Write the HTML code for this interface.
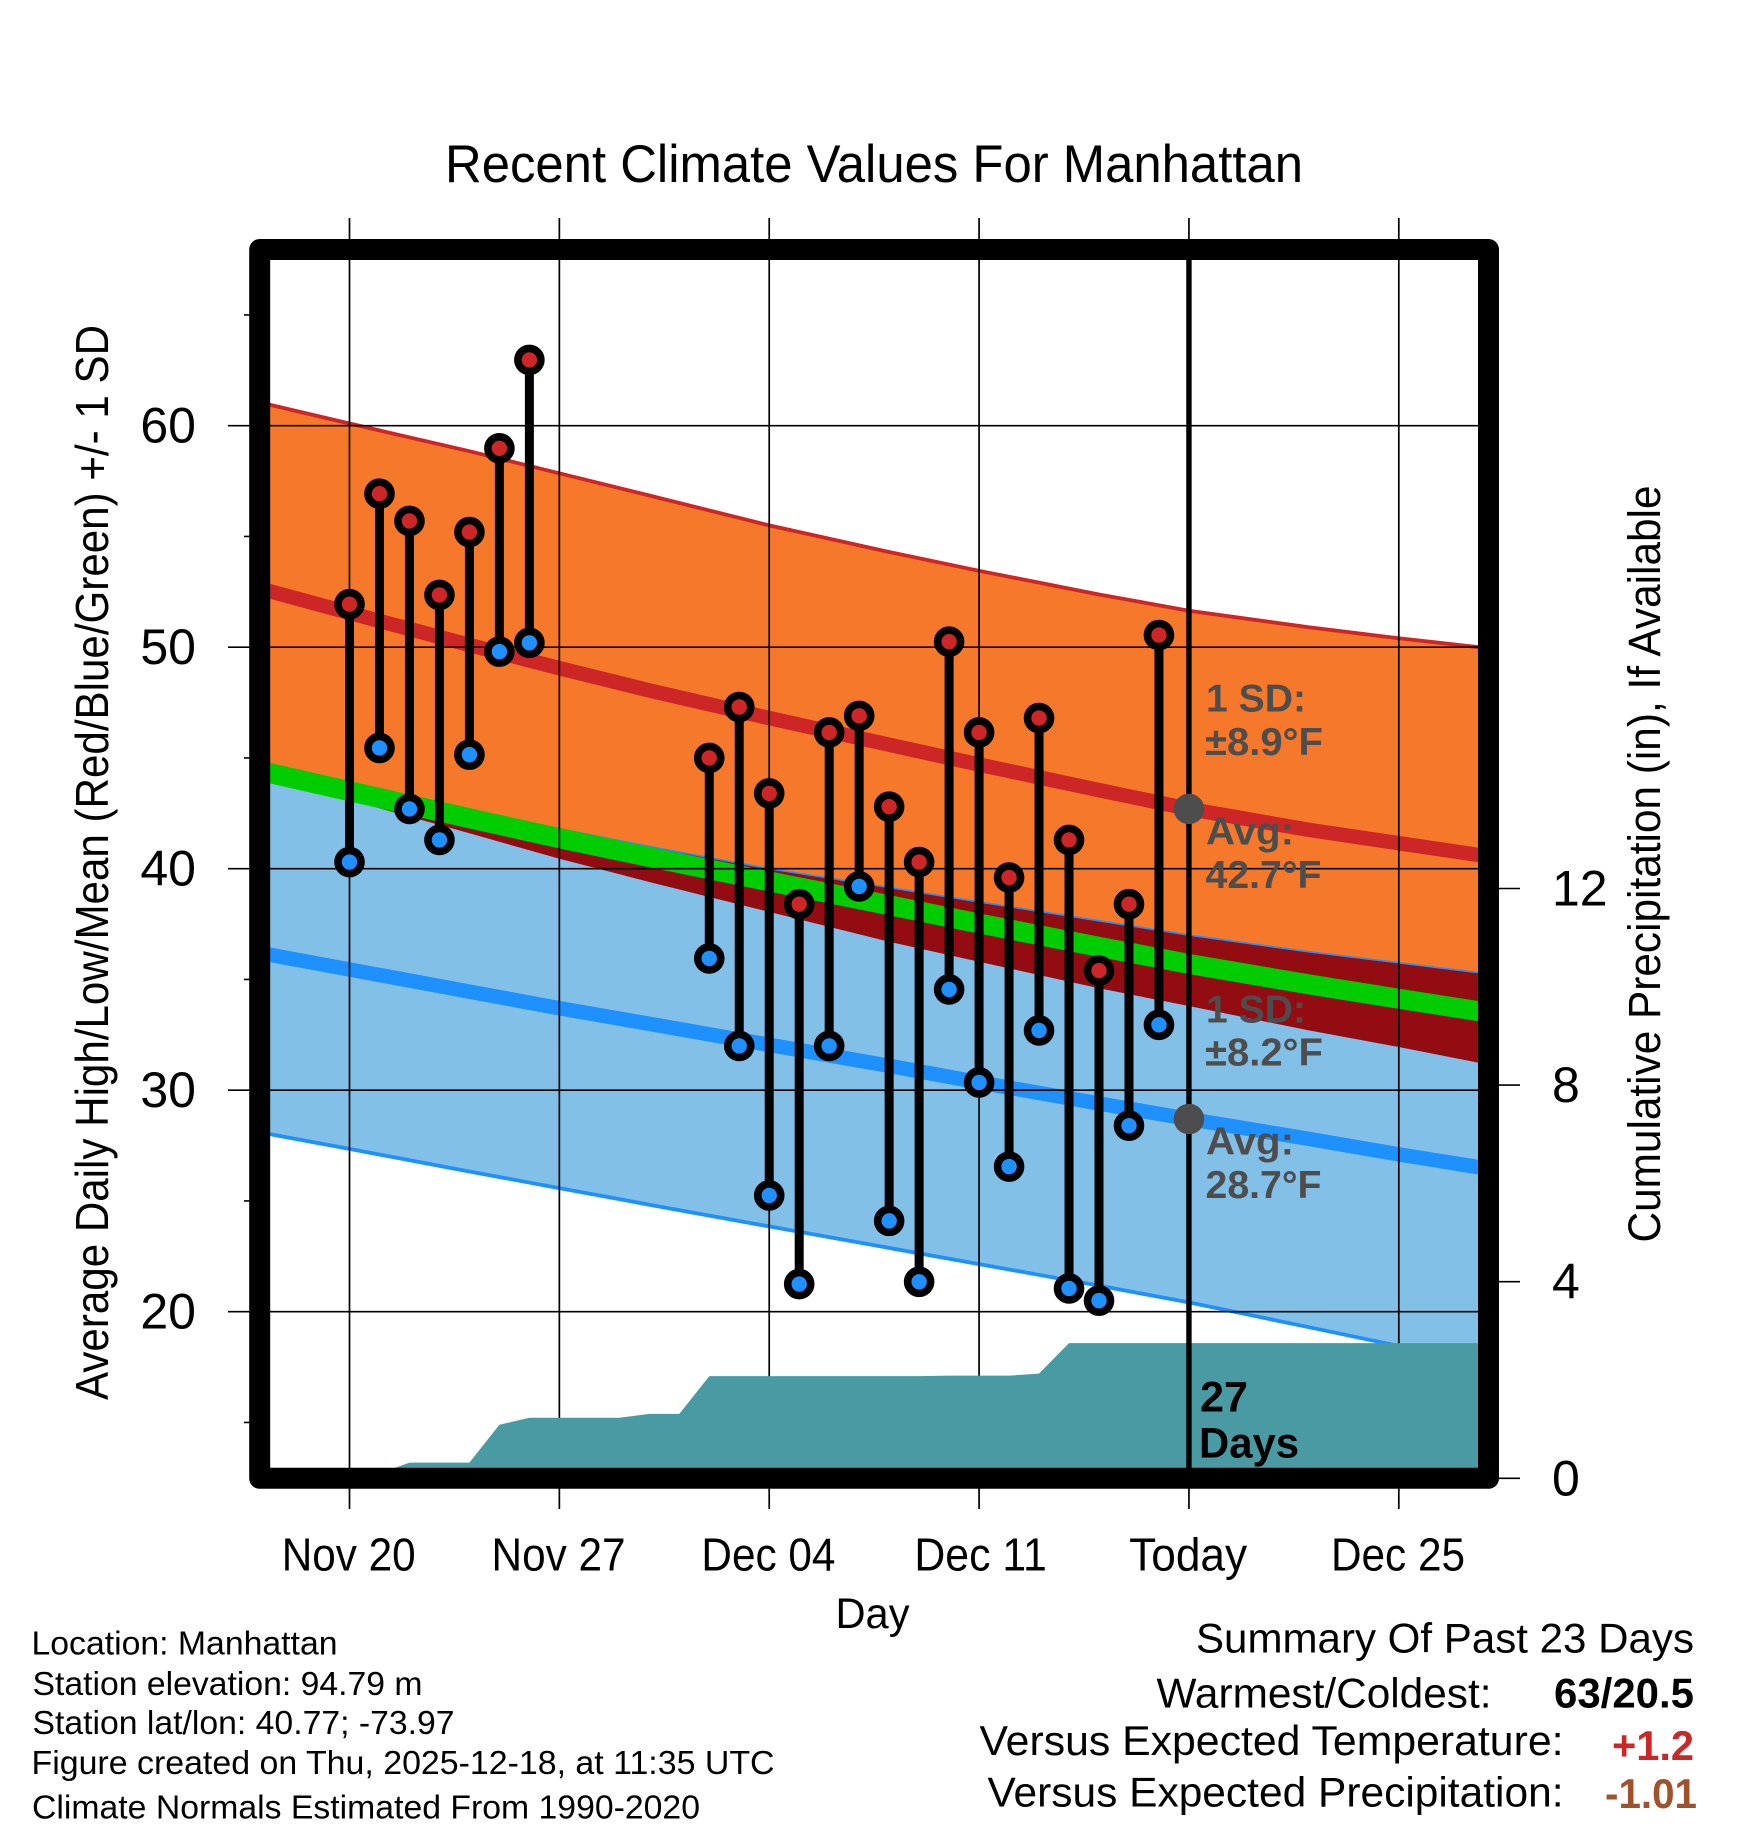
<!DOCTYPE html>
<html lang="en">
<head>
<meta charset="utf-8">
<title>Recent Climate Values For Manhattan</title>
<style>
html,body{margin:0;padding:0;background:#fff;}
svg{display:block;font-family:"Liberation Sans",sans-serif;}
.g{fill:#4d4d4d;font-weight:bold;font-size:39px;}
.b{fill:#000;font-size:33px;}
.s{fill:#000;font-size:42px;}
</style>
</head>
<body>
<svg id="chart" xmlns="http://www.w3.org/2000/svg" width="1748" height="1828" viewBox="0 0 1748 1828">
  <rect x="0" y="0" width="1748" height="1828" fill="#ffffff"/>
  <g id="marks"></g>
  <rect x="259.7" y="249.5" width="1228.8" height="1228.8" fill="none" stroke="#000" stroke-width="21" stroke-linejoin="round"/>
  <g id="axes"></g>
  <g id="overlay"></g>

  <text x="874" y="182" font-size="53" text-anchor="middle" textLength="858" lengthAdjust="spacingAndGlyphs">Recent Climate Values For Manhattan</text>
  <text x="872.5" y="1628" font-size="43" text-anchor="middle" textLength="74" lengthAdjust="spacingAndGlyphs">Day</text>
  <text transform="translate(108,862.5) rotate(-90)" font-size="46.5" text-anchor="middle" textLength="1075" lengthAdjust="spacingAndGlyphs">Average Daily High/Low/Mean (Red/Blue/Green) +/- 1 SD</text>
  <text transform="translate(1660,864) rotate(-90)" font-size="45" text-anchor="middle" textLength="757" lengthAdjust="spacingAndGlyphs">Cumulative Precipitation (in), If Available</text>

  <text class="g" x="1206" y="711.4" textLength="100" lengthAdjust="spacingAndGlyphs">1 SD:</text>
  <text class="g" x="1205" y="754.8" textLength="118" lengthAdjust="spacingAndGlyphs">±8.9°F</text>
  <text class="g" x="1206" y="844.5" textLength="88" lengthAdjust="spacingAndGlyphs">Avg:</text>
  <text class="g" x="1205.5" y="888" textLength="116" lengthAdjust="spacingAndGlyphs">42.7°F</text>
  <text class="g" x="1206" y="1022.3" textLength="100" lengthAdjust="spacingAndGlyphs">1 SD:</text>
  <text class="g" x="1205" y="1065.7" textLength="118" lengthAdjust="spacingAndGlyphs">±8.2°F</text>
  <text class="g" x="1206" y="1154.6" textLength="88" lengthAdjust="spacingAndGlyphs">Avg:</text>
  <text class="g" x="1205.5" y="1198" textLength="116" lengthAdjust="spacingAndGlyphs">28.7°F</text>

  <text x="1200" y="1411.7" font-size="43" font-weight="bold" textLength="48" lengthAdjust="spacingAndGlyphs">27</text>
  <text x="1199" y="1457.3" font-size="43" font-weight="bold" textLength="100" lengthAdjust="spacingAndGlyphs">Days</text>

  <text class="b" x="31.5" y="1654.3" textLength="306" lengthAdjust="spacingAndGlyphs">Location: Manhattan</text>
  <text class="b" x="32.5" y="1695" textLength="390" lengthAdjust="spacingAndGlyphs">Station elevation: 94.79 m</text>
  <text class="b" x="32.5" y="1734" textLength="422" lengthAdjust="spacingAndGlyphs">Station lat/lon: 40.77; -73.97</text>
  <text class="b" x="31.5" y="1774" textLength="743" lengthAdjust="spacingAndGlyphs">Figure created on Thu, 2025-12-18, at 11:35 UTC</text>
  <text class="b" x="32" y="1818.3" textLength="668" lengthAdjust="spacingAndGlyphs">Climate Normals Estimated From 1990-2020</text>

  <text class="s" x="1694" y="1652.7" text-anchor="end" textLength="498" lengthAdjust="spacingAndGlyphs">Summary Of Past 23 Days</text>
  <text class="s" x="1491.5" y="1707.7" text-anchor="end" textLength="335" lengthAdjust="spacingAndGlyphs">Warmest/Coldest:</text>
  <text class="s" x="1694" y="1707.7" text-anchor="end" font-weight="bold" textLength="140" lengthAdjust="spacingAndGlyphs">63/20.5</text>
  <text class="s" x="1563.5" y="1755" text-anchor="end" textLength="584" lengthAdjust="spacingAndGlyphs">Versus Expected Temperature:</text>
  <text class="s" x="1694" y="1760" text-anchor="end" font-weight="bold" style="fill:#cd2626" textLength="82" lengthAdjust="spacingAndGlyphs">+1.2</text>
  <text class="s" x="1563.5" y="1806.7" text-anchor="end" textLength="576" lengthAdjust="spacingAndGlyphs">Versus Expected Precipitation:</text>
  <text class="s" x="1697" y="1808" text-anchor="end" font-weight="bold" style="fill:#a0522d" textLength="92" lengthAdjust="spacingAndGlyphs">-1.01</text>
</svg>

<script>
// Observed daily values (day = days after Nov 20)
const obsDays = [0,1,2,3,4,5,6,12,13,14,15,16,17,18,19,20,21,22,23,24,25,26,27];
const obsHigh = [51.94,56.93,55.7,52.36,55.2,58.98,62.97,45,47.3,43.4,38.4,46.15,46.9,42.8,40.3,50.25,46.15,39.6,46.8,41.3,35.4,38.4,50.55];
const obsLow = [40.3,45.45,42.7,41.3,45.15,49.8,50.2,35.95,32,25.25,21.25,32,39.2,24.1,21.35,34.55,30.35,26.55,32.7,21.05,20.5,28.4,32.95];

// Climate normals
const normalDays = [-3,0,4,7,10,14,18,21,25,28,32,35,38];
const highMean = [52.65,51.55,50.1,49.05,48.05,46.8,45.6,44.7,43.55,42.7,41.75,41.15,40.55];
const highPlusSd = [61.05,60.1,58.85,57.85,56.85,55.5,54.3,53.45,52.38,51.65,50.9,50.4,49.95];
const highMinusSd = [44.3,43.1,41.6,40.45,39.4,38.05,36.7,35.8,34.6,33.8,32.7,31.95,31.15];
const lowMean = [36.2,35.45,34.45,33.7,33,32.05,31.1,30.35,29.4,28.7,27.8,27.1,26.45];
const lowPlusSd = [44.3,43.6,42.55,41.8,41,40,39.15,38.5,37.65,37,36.25,35.75,35.25];
const lowMinusSd = [28.1,27.35,26.33,25.58,24.83,23.85,22.88,22.15,21.18,20.42,19.3,18.45,17.6];

// Cumulative precipitation (inches), one value per day from Nov 20
const precipDays = [0,1,2,3,4,5,6,7,8,9,10,11,12,13,14,15,16,17,18,19,20,21,22,23,24,25,26,27,28,29,30,31,32,33,34,35,36,37,38];
const precipInches = [0,0.1,0.32,0.32,0.32,1.09,1.23,1.23,1.23,1.23,1.31,1.31,2.08,2.08,2.08,2.08,2.08,2.08,2.08,2.08,2.09,2.09,2.09,2.13,2.75,2.75,2.75,2.75,2.75,2.75,2.75,2.75,2.75,2.75,2.75,2.75,2.75,2.75,2.75];

// Axis ticks
const xTickDays = [0,7,14,21,28,35];
const xTickLabels = ['Nov 20','Nov 27','Dec 04','Dec 11','Today','Dec 25'];
const yMajorTicks = [20,30,40,50,60];
const yMinorTicks = [15,25,35,45,55,65];
const yPrecipTicks = [0,4,8,12];
const todayDay = 28;
const todayHighAvg = 42.7;
const todayLowAvg = 28.7;

const NS = 'http://www.w3.org/2000/svg';
function xScale(d){ return 349.5 + d * 29.98; }
function yScale(v){ return 425.7 + (60 - v) * 22.15; }
function pScale(p){ return 1478.3 - p * 49.15; }
function shape(parent, tag, attrs){
  const el = document.createElementNS(NS, tag);
  for (const k in attrs) el.setAttribute(k, attrs[k]);
  
  parent.appendChild(el);
  return el;
}
function linePts(series){
  return normalDays.map(function(d,i){ return xScale(d).toFixed(1)+','+yScale(series[i]).toFixed(1); });
}
function bandPts(upper, lower){
  return linePts(upper).concat(linePts(lower).reverse()).join(' ');
}

const marks = document.getElementById('marks');
const axes = document.getElementById('axes');
const overlay = document.getElementById('overlay');
let el;

el = shape(marks, 'polygon', {points: bandPts(highPlusSd, highMinusSd), fill: '#f6782b'});

el = shape(marks, 'polygon', {points: bandPts(lowPlusSd, lowMinusSd), fill: '#83c0e8'});

el = shape(marks, 'polygon', {points: bandPts(lowPlusSd, highMinusSd), fill: '#930c12'});

el = shape(marks, 'polyline', {points: linePts(lowPlusSd).join(' '), fill: 'none', stroke: '#1e90ff', 'stroke-width': 1.6});

el = shape(marks, 'polyline', {points: linePts(lowMinusSd).join(' '), fill: 'none', stroke: '#1e90ff', 'stroke-width': 3.8});

el = shape(marks, 'polyline', {points: linePts(highPlusSd).join(' '), fill: 'none', stroke: '#cd2626', 'stroke-width': 3.8});


const meanLine = highMean.map(function(h,i){ return (h + lowMean[i]) / 2; });
el = shape(marks, 'polyline', {points: linePts(meanLine).join(' '), fill: 'none', stroke: '#00cd00', 'stroke-width': 20});

el = shape(marks, 'polyline', {points: linePts(highMean).join(' '), fill: 'none', stroke: '#cd2626', 'stroke-width': 14.5});

el = shape(marks, 'polyline', {points: linePts(lowMean).join(' '), fill: 'none', stroke: '#1e90ff', 'stroke-width': 14.5});


xTickDays.forEach(function(d){
  el = shape(marks, 'line', {x1: xScale(d), x2: xScale(d), y1: 218, y2: 1509, stroke: '#000', 'stroke-width': 1.7});
  
});
yMajorTicks.forEach(function(v){
  el = shape(marks, 'line', {x1: 228, x2: 1480, y1: yScale(v), y2: yScale(v), stroke: '#000', 'stroke-width': 1.7});
  
});

const precipPts = precipDays.map(function(d,i){ return xScale(d).toFixed(1)+','+pScale(precipInches[i]).toFixed(1); });
precipPts.push(xScale(38).toFixed(1)+','+pScale(0).toFixed(1));
el = shape(marks, 'polygon', {points: precipPts.join(' '), fill: '#4a9aa4'});


el = shape(marks, 'line', {x1: xScale(todayDay), x2: xScale(todayDay), y1: 250, y2: 1478, stroke: '#000', 'stroke-width': 5.4});


obsDays.forEach(function(d,i){
  el = shape(marks, 'line', {x1: xScale(d), x2: xScale(d), y1: yScale(obsHigh[i]), y2: yScale(obsLow[i]), stroke: '#000', 'stroke-width': 9});
  
});
obsDays.forEach(function(d,i){
  el = shape(marks, 'circle', {cx: xScale(d), cy: yScale(obsHigh[i]), r: 11.5, fill: '#cd2626', stroke: '#000', 'stroke-width': 7.6});
  
  el = shape(marks, 'circle', {cx: xScale(d), cy: yScale(obsLow[i]), r: 11.5, fill: '#1e90ff', stroke: '#000', 'stroke-width': 7.6});
  
});

el = shape(overlay, 'circle', {cx: xScale(todayDay), cy: yScale(todayHighAvg), r: 15.3, fill: '#4d4d4d'});

el = shape(overlay, 'circle', {cx: xScale(todayDay), cy: yScale(todayLowAvg), r: 15.3, fill: '#4d4d4d'});


xTickDays.forEach(function(d,i){
  const isToday = xTickLabels[i] === 'Today';
  const isDec11 = xTickLabels[i] === 'Dec 11';
  el = shape(axes, 'text', {x: xScale(d) + (isDec11 ? 1.5 : -0.8), y: 1570.7, 'font-size': 46, 'text-anchor': 'middle', textLength: isToday ? 118 : (isDec11 ? 132.5 : 134), lengthAdjust: 'spacingAndGlyphs'});
  el.textContent = xTickLabels[i];
  
});
yMajorTicks.forEach(function(v){
  el = shape(axes, 'text', {x: 196, y: yScale(v) + 17, 'font-size': 50, 'text-anchor': 'end'});
  el.textContent = String(v);
  
});
yMinorTicks.forEach(function(v){
  el = shape(axes, 'line', {x1: 244, x2: 250, y1: yScale(v), y2: yScale(v), stroke: '#000', 'stroke-width': 1.6});
  
});
yPrecipTicks.forEach(function(p){
  el = shape(axes, 'line', {x1: 1498, x2: 1520, y1: pScale(p), y2: pScale(p), stroke: '#000', 'stroke-width': 1.6});
  
  el = shape(axes, 'text', {x: 1552, y: pScale(p) + 17, 'font-size': 50});
  el.textContent = String(p);
  
});
</script>
</body>
</html>
